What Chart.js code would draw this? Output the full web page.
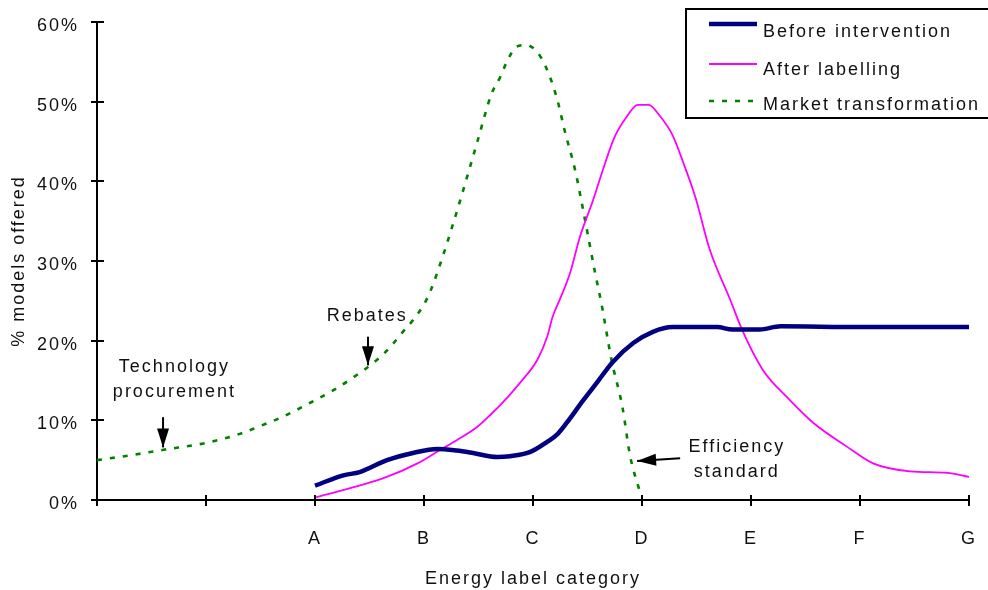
<!DOCTYPE html>
<html>
<head>
<meta charset="utf-8">
<title>Energy label category</title>
<script src="https://cdn.jsdelivr.net/npm/chart.js@4.4.1/dist/chart.umd.min.js"></script>
<style>
  html, body { margin: 0; padding: 0; background: #fff; }
  #wrap { width: 988px; height: 590px; }
</style>
</head>
<body>
<div id="wrap"><canvas id="c" width="988" height="590"></canvas></div>
<script>
// Category axis: two unlabelled steps, then label classes A..G
const xTickLabels = ['', '', 'A', 'B', 'C', 'D', 'E', 'F', 'G'];
const yTickValues = [0, 10, 20, 30, 40, 50, 60];

// Before intervention (share of models, %)
const beforeX = [2.0, 2.26, 2.41, 2.66, 2.90, 3.12, 3.30, 3.45, 3.67, 3.79, 3.97, 4.13, 4.22, 4.31, 4.46, 4.59, 4.73, 4.92, 5.10, 5.28, 5.69, 5.83, 6.08, 6.27, 7.0, 8.0];
const beforeY = [1.8, 3.1, 3.5, 5.0, 5.9, 6.4, 6.2, 5.9, 5.4, 5.5, 6.0, 7.3, 8.2, 9.7, 12.5, 14.8, 17.3, 19.7, 21.1, 21.7, 21.7, 21.4, 21.4, 21.8, 21.7, 21.7];

// After labelling
const afterX = [2.0, 2.64, 2.94, 3.15, 3.30, 3.49, 3.61, 3.76, 3.88, 4.04, 4.13, 4.18, 4.25, 4.34, 4.43, 4.55, 4.64, 4.75, 4.86, 4.96, 5.06, 5.17, 5.28, 5.38, 5.49, 5.62, 5.81, 5.93, 6.11, 6.33, 6.57, 6.88, 7.12, 7.46, 7.80, 8.0];
const afterY = [0.3, 2.8, 4.6, 6.3, 7.5, 9.2, 10.7, 12.8, 14.7, 17.6, 20.5, 23.0, 25.3, 28.5, 33.0, 37.6, 41.4, 45.6, 48.1, 49.6, 49.6, 48.1, 45.8, 42.3, 38.0, 31.5, 25.1, 21.0, 16.3, 12.9, 9.7, 6.7, 4.6, 3.6, 3.4, 2.9];

// Market transformation
const marketX = [0, 0.30, 0.61, 1.01, 1.31, 1.50, 1.68, 1.97, 2.17, 2.32, 2.57, 2.69, 2.80, 2.90, 3.01, 3.07, 3.17, 3.27, 3.36, 3.49, 3.62, 3.70, 3.76, 3.85, 3.94, 4.02, 4.11, 4.22, 4.29, 4.39, 4.46, 4.57, 4.63, 4.72, 4.82, 4.89, 4.99];
const marketY = [5.0, 5.6, 6.3, 7.2, 8.3, 9.3, 10.3, 12.3, 13.8, 15.1, 17.6, 19.2, 21.0, 22.6, 24.8, 26.6, 30.5, 34.8, 38.9, 45.0, 51.0, 53.1, 55.0, 56.9, 57.1, 56.5, 54.6, 50.4, 46.4, 41.2, 36.4, 28.5, 24.5, 17.6, 11.7, 5.6, 0.6];

const seriesNames = ['Before intervention', 'After labelling', 'Market transformation'];
const seriesColors = ['#000080', '#ff00ff', '#008000'];

// Policy-instrument callouts, placed in axis units
const notes = [
  { lines: ['Technology', 'procurement'], x: 0.71, y: [16.7, 13.6], arrow: { from: [0.606, 10.4], to: [0.606, 6.6] } },
  { lines: ['Rebates'], x: 2.48, y: [23.1], arrow: { from: [2.486, 20.5], to: [2.486, 16.9] } },
  { lines: ['Efficiency', 'standard'], x: 5.87, y: [6.65, 3.5], arrow: { from: [5.35, 5.25], to: [4.955, 4.9] } }
];

const FONT = "'Liberation Sans', Arial, Helvetica, sans-serif";
const SPACING = '2px';

function pts(xs, ys) { return xs.map((x, i) => ({ x: x, y: ys[i] })); }

const spacingPlugin = {
  id: 'spacing',
  beforeInit(chart) { chart.ctx.letterSpacing = SPACING; },
  beforeLayout(chart) { chart.ctx.letterSpacing = SPACING; },
  beforeDraw(chart) { chart.ctx.letterSpacing = SPACING; }
};

// Tick marks that cross the axis line (inner half)
const crossTicks = {
  id: 'crossTicks',
  afterDraw(chart) {
    const ctx = chart.ctx, xs = chart.scales.x, ys = chart.scales.y;
    ctx.save();
    ctx.strokeStyle = '#000';
    ctx.lineWidth = 2;
    ctx.beginPath();
    ys.ticks.forEach(t => {
      const p = Math.round(ys.getPixelForValue(t.value));
      ctx.moveTo(xs.left, p); ctx.lineTo(xs.left + 7, p);
    });
    xs.ticks.forEach(t => {
      const p = Math.round(xs.getPixelForValue(t.value));
      ctx.moveTo(p, ys.bottom); ctx.lineTo(p, ys.bottom - 5);
    });
    ctx.stroke();
    ctx.restore();
  }
};

function arrowHead(ctx, x0, y0, x1, y1, len, half) {
  const a = Math.atan2(y1 - y0, x1 - x0);
  ctx.beginPath();
  ctx.moveTo(x1, y1);
  ctx.lineTo(x1 - len * Math.cos(a) + half * Math.sin(a), y1 - len * Math.sin(a) - half * Math.cos(a));
  ctx.lineTo(x1 - len * Math.cos(a) - half * Math.sin(a), y1 - len * Math.sin(a) + half * Math.cos(a));
  ctx.closePath();
  ctx.fill();
}

const notesPlugin = {
  id: 'notes',
  afterDatasetsDraw(chart) {
    const ctx = chart.ctx, xs = chart.scales.x, ys = chart.scales.y;
    ctx.save();
    ctx.letterSpacing = SPACING;
    ctx.font = '18px ' + FONT;
    ctx.fillStyle = '#111';
    ctx.strokeStyle = '#000';
    ctx.textAlign = 'center';
    ctx.textBaseline = 'middle';
    notes.forEach(n => {
      n.lines.forEach((s, i) => ctx.fillText(s, xs.getPixelForValue(n.x), ys.getPixelForValue(n.y[i])));
      const x0 = xs.getPixelForValue(n.arrow.from[0]), y0 = ys.getPixelForValue(n.arrow.from[1]);
      const x1 = xs.getPixelForValue(n.arrow.to[0]), y1 = ys.getPixelForValue(n.arrow.to[1]);
      ctx.lineWidth = 2;
      ctx.beginPath(); ctx.moveTo(x0, y0); ctx.lineTo(x1, y1); ctx.stroke();
      ctx.fillStyle = '#000';
      arrowHead(ctx, x0, y0, x1, y1, 19, 6);
      ctx.fillStyle = '#111';
    });
    ctx.restore();
  }
};

// Boxed legend in the top-right corner
const boxLegend = {
  id: 'boxLegend',
  afterDraw(chart) {
    const ctx = chart.ctx;
    ctx.save();
    ctx.letterSpacing = SPACING;
    ctx.lineWidth = 2;
    ctx.strokeStyle = '#000';
    ctx.strokeRect(686, 9, 310, 109);
    const rows = [{ line: 24, text: 32 }, { line: 64, text: 70 }, { line: 101, text: 105 }];
    chart.data.datasets.forEach((ds, i) => {
      ctx.beginPath();
      ctx.strokeStyle = ds.borderColor;
      ctx.lineWidth = ds.borderWidth;
      ctx.setLineDash(ds.borderDash || []);
      ctx.moveTo(709, rows[i].line); ctx.lineTo(757, rows[i].line);
      ctx.stroke();
      ctx.setLineDash([]);
      ctx.fillStyle = '#111';
      ctx.font = '18px ' + FONT;
      ctx.textAlign = 'left';
      ctx.textBaseline = 'middle';
      ctx.fillText(ds.label, 763, rows[i].text);
    });
    ctx.restore();
  }
};

Chart.defaults.font.family = FONT;
Chart.defaults.font.size = 18;
Chart.defaults.color = '#111';

new Chart(document.getElementById('c'), {
  type: 'line',
  data: {
    datasets: [
      { label: seriesNames[0], data: pts(beforeX, beforeY), borderColor: seriesColors[0], borderWidth: 4.5, pointRadius: 0, cubicInterpolationMode: 'monotone', fill: false },
      { label: seriesNames[1], data: pts(afterX, afterY), borderColor: seriesColors[1], borderWidth: 1.8, pointRadius: 0, cubicInterpolationMode: 'monotone', fill: false },
      { label: seriesNames[2], data: pts(marketX, marketY), borderColor: seriesColors[2], borderWidth: 2.6, borderDash: [5, 8], pointRadius: 0, cubicInterpolationMode: 'monotone', fill: false }
    ]
  },
  options: {
    responsive: false,
    animation: false,
    layout: { padding: { top: 22, right: 19, left: 0, bottom: 0 } },
    plugins: { legend: { display: false }, tooltip: { enabled: false } },
    scales: {
      x: {
        type: 'linear', min: 0, max: 8,
        afterFit(s) { s.height = 90; s.paddingLeft = 0; s.paddingRight = 0; },
        afterBuildTicks(s) { s.ticks = xTickLabels.map((_, i) => ({ value: i })); },
        ticks: { callback: v => xTickLabels[v], padding: 22, maxRotation: 0, autoSkip: false, color: '#111' },
        grid: { drawOnChartArea: false, tickLength: 6, color: '#000', lineWidth: 2 },
        border: { display: true, color: '#000', width: 2 },
        title: { display: true, text: 'Energy label category', color: '#111', padding: { top: 0, bottom: 0 } }
      },
      y: {
        min: 0, max: 60,
        afterFit(s) { s.width = 97; s.paddingTop = 0; s.paddingBottom = 0; },
        afterBuildTicks(s) { s.ticks = yTickValues.map(v => ({ value: v })); },
        ticks: { callback: v => v + '%', padding: 12, labelOffset: 4, color: '#111' },
        grid: { drawOnChartArea: false, tickLength: 6, color: '#000', lineWidth: 2 },
        border: { display: true, color: '#000', width: 2 },
        title: { display: true, text: '% models offered', color: '#111', padding: { top: 8, bottom: 0 } }
      }
    }
  },
  plugins: [spacingPlugin, crossTicks, notesPlugin, boxLegend]
});
</script>
</body>
</html>
